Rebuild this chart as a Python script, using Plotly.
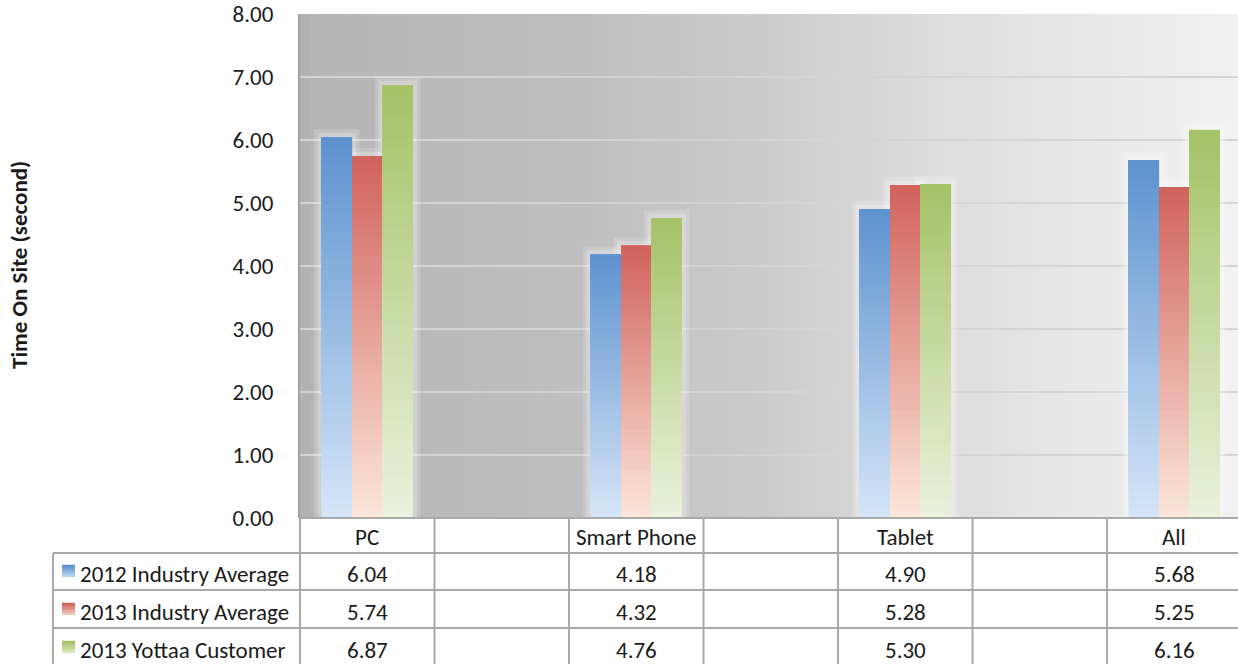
import plotly.graph_objects as go

# ---------------- data ----------------
categories = ["PC", "Smart Phone", "Tablet", "All"]
series_names = ["2012 Industry Average", "2013 Industry Average", "2013 Yottaa Customer"]
industry_avg_2012 = [6.04, 4.18, 4.90, 5.68]
industry_avg_2013 = [5.74, 4.32, 5.28, 5.25]
yottaa_customer_2013 = [6.87, 4.76, 5.30, 6.16]
y_tick_values = [0, 1, 2, 3, 4, 5, 6, 7, 8]
y_axis_title = "Time On Site (second)"

series_values = [industry_avg_2012, industry_avg_2013, yottaa_customer_2013]

# ---------------- style ----------------
top_colors = [(92, 146, 207), (208, 98, 92), (164, 194, 101)]
bottom_colors = [(214, 229, 248), (252, 230, 218), (234, 242, 222)]
FONT = "Carlito, Lato, Liberation Sans, sans-serif"
FS = 23
TXT = "#1a1a1a"
LINE = "#a9a9a9"

W, H = 1238, 664
ML, MT, MB, MR = 300, 14, 146, 0
PW, PH = W - ML - MR, H - MT - MB
COLW = 134.5  # pixel width of one table column / category slot


def xp(px):
    return (px - ML) / PW


def yp(py):
    return (MT + PH - py) / PH


def mix(c0, c1, t):
    return "rgb(%d,%d,%d)" % tuple(round(a + (b - a) * t) for a, b in zip(c0, c1))


# axis order: the original table has empty spacer columns between categories
axis_order = []
for i, c in enumerate(categories):
    axis_order.append(c)
    if i < len(categories) - 1:
        axis_order.append(" " * (i + 1))
ncols = len(axis_order)

fig = go.Figure()

# soft glow behind each bar
slot = (1 - 0.32) / len(series_names)
for s, vals in enumerate(series_values):
    for extra, alpha in [(0.11, 0.16), (0.06, 0.22)]:
        fig.add_trace(go.Bar(
            x=categories, y=[v + extra * 1.2 for v in vals],
            offsetgroup=str(s), width=slot + extra,
            marker=dict(color="rgba(255,255,255,%.2f)" % alpha, line=dict(width=0)),
            showlegend=False, hoverinfo="skip"))

# bars with vertical gradient (strong at top, pale at bottom)
N = 40
for s, vals in enumerate(series_values):
    xs, bases, heights, cols = [], [], [], []
    for k in range(N):
        t = k / N
        for c, v in zip(categories, vals):
            xs.append(c)
            bases.append(v * t)
            heights.append(v - v * t)
            cols.append(mix(bottom_colors[s], top_colors[s], (k + 0.5) / N))
    fig.add_trace(go.Bar(
        x=xs, y=heights, base=bases, offsetgroup=str(s), name=series_names[s],
        marker=dict(color=cols, line=dict(width=0)),
        showlegend=False, hoverinfo="skip"))

shapes = []
# plot-area background: horizontal gray gradient
stops = [(0.0, 176), (0.02, 182), (0.3, 190), (0.45, 200), (0.6, 214), (0.8, 230), (1.0, 241)]
NS = 90
for i in range(NS):
    t = (i + 0.5) / NS
    for (a, ca), (b, cb) in zip(stops[:-1], stops[1:]):
        if a <= t <= b:
            g = round(ca + (cb - ca) * (t - a) / (b - a))
            break
    shapes.append(dict(type="rect", xref="paper", yref="paper", x0=i / NS, x1=(i + 1) / NS + 0.002,
                       y0=0, y1=1, fillcolor="rgb(%d,%d,%d)" % (g, g, g),
                       line=dict(width=0), layer="below"))

# data table grid
row_lines = [553, 590, 628]
row_centers = [537, 574, 612, 650]
shapes.append(dict(type="line", xref="paper", yref="paper", x0=0, x1=1, y0=0, y1=0,
                   line=dict(color=LINE, width=2)))
for py in row_lines:
    shapes.append(dict(type="line", xref="paper", yref="paper", x0=xp(53), x1=1, y0=yp(py), y1=yp(py),
                       line=dict(color=LINE, width=2)))
for i in range(ncols):
    xx = i * COLW / PW
    shapes.append(dict(type="line", xref="paper", yref="paper", x0=xx, x1=xx,
                       y0=0, y1=yp(H + 2), line=dict(color=LINE, width=2)))
shapes.append(dict(type="line", xref="paper", yref="paper", x0=xp(53), x1=xp(53),
                   y0=yp(row_lines[0]), y1=yp(H + 2), line=dict(color=LINE, width=2)))

annotations = []
# header row: category labels
for c in categories:
    annotations.append(dict(x=c, xref="x", y=yp(row_centers[0]), yref="paper", text=c,
                            showarrow=False, xanchor="center", yanchor="middle",
                            font=dict(family=FONT, size=FS, color=TXT)))
# value rows + legend keys
for s, vals in enumerate(series_values):
    yc = row_centers[s + 1]
    for c, v in zip(categories, vals):
        annotations.append(dict(x=c, xref="x", y=yp(yc), yref="paper", text="%.2f" % v,
                                showarrow=False, xanchor="center", yanchor="middle",
                                font=dict(family=FONT, size=FS, color=TXT)))
    annotations.append(dict(x=xp(78), xref="paper", y=yp(yc), yref="paper", text=series_names[s],
                            showarrow=False, xanchor="left", yanchor="middle",
                            font=dict(family=FONT, size=FS, color=TXT)))
    ktop, kbot = yc - 9, yc + 3
    nk = 6
    for k in range(nk):
        y0 = ktop + (kbot - ktop) * k / nk
        y1 = ktop + (kbot - ktop) * (k + 1) / nk
        shapes.append(dict(type="rect", xref="paper", yref="paper", x0=xp(62), x1=xp(75),
                           y0=yp(y1), y1=yp(y0) + 0.0005,
                           fillcolor=mix(top_colors[s], bottom_colors[s], 0.75 * k / (nk - 1)),
                           line=dict(width=0)))

annotations.append(dict(x=xp(19), xref="paper", y=yp(265), yref="paper", text="<b>%s</b>" % y_axis_title,
                        textangle=-90, showarrow=False, xanchor="center", yanchor="middle",
                        font=dict(family=FONT, size=FS, color=TXT)))

fig.update_layout(
    width=W, height=H,
    margin=dict(l=ML, r=MR, t=MT, b=MB, pad=0),
    paper_bgcolor="white", plot_bgcolor="rgba(0,0,0,0)",
    barmode="group", bargap=0.32, bargroupgap=0,
    showlegend=False,
    shapes=shapes, annotations=annotations,
    font=dict(family=FONT, color=TXT),
)
fig.update_xaxes(type="category", categoryorder="array", categoryarray=axis_order,
                 range=[-0.5, -0.5 + PW / COLW], showticklabels=False, showgrid=False,
                 zeroline=False, showline=False, ticks="")
fig.update_yaxes(range=[0, 8], tickvals=y_tick_values, tickformat=".2f",
                 showgrid=True, gridcolor="#d4d4d4", gridwidth=2, zeroline=False,
                 showline=True, linecolor="#a2a2a2", linewidth=2, ticks="",
                 ticklabelstandoff=20, tickfont=dict(family=FONT, size=FS, color=TXT))

fig.write_html("out.html")
